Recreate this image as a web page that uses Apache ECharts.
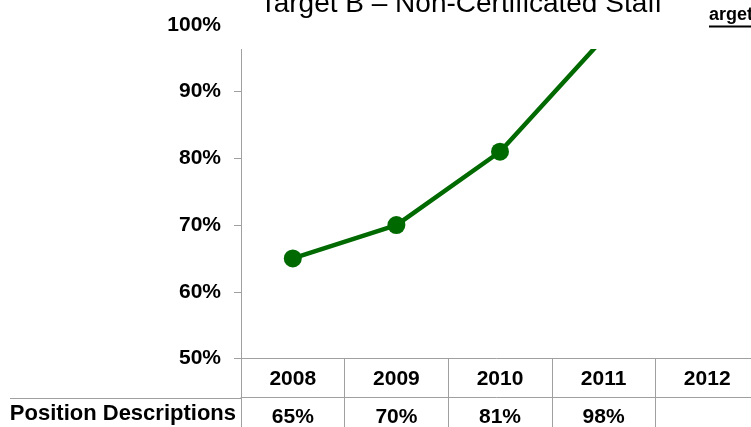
<!DOCTYPE html>
<html>
<head>
<meta charset="utf-8">
<script src="https://cdn.jsdelivr.net/npm/echarts@6/dist/echarts.min.js"></script>
<style>
  html, body { margin: 0; padding: 0; background: #fff; }
</style>
</head>
<body>
<!-- 图表容器 -->
<div id="myChart" style="width: 751px;height:427px;"></div>
<script>
// 年份
var years = ['2008', '2009', '2010', '2011', '2012'];
// Position Descriptions 数据（百分比）
var positionDescriptions = [65, 70, 81, 98, null];
var seriesName = 'Position Descriptions';
var chartTitle = 'Target B \u2013 Non-Certificated Staff';

var gray = '#a0a0a0';
var green = '#006a00';
var labelFont = 'Liberation Sans, Arial, sans-serif';

var myChart = echarts.init(document.getElementById('myChart'));

var option = {
  animation: false,
  grid: {
    left: 241,
    top: 25,
    width: 518,
    height: 333.5,
    outerBoundsMode: 'none',
    containLabel: false
  },
  xAxis: [
    {
      type: 'category',
      data: years,
      boundaryGap: true,
      axisLine: { show: true, lineStyle: { color: gray, width: 1 } },
      axisTick: { show: true, alignWithLabel: false, length: 39, lineStyle: { color: gray } },
      axisLabel: {
        margin: 10,
        fontFamily: labelFont,
        fontWeight: 'bold',
        fontSize: 21,
        color: '#000'
      },
      splitLine: { show: false }
    },
    {
      type: 'category',
      position: 'bottom',
      offset: 39,
      data: positionDescriptions.map(function (v) { return v == null ? '' : v + '%'; }),
      boundaryGap: true,
      axisLine: { show: true, lineStyle: { color: gray, width: 1 } },
      axisTick: { show: true, length: 32, lineStyle: { color: gray } },
      axisLabel: {
        margin: 9,
        fontFamily: labelFont,
        fontWeight: 'bold',
        fontSize: 21,
        color: '#000'
      },
      splitLine: { show: false }
    }
  ],
  yAxis: {
    type: 'value',
    min: 50,
    max: 100,
    interval: 10,
    axisLine: { show: true, lineStyle: { color: gray, width: 1 } },
    axisTick: { show: true, length: 7, lineStyle: { color: gray } },
    splitLine: { show: false },
    axisLabel: {
      margin: 20,
      formatter: '{value}%',
      fontFamily: labelFont,
      fontWeight: 'bold',
      fontSize: 21,
      color: '#000'
    }
  },
  series: [
    {
      name: seriesName,
      type: 'line',
      xAxisIndex: 0,
      data: positionDescriptions,
      symbol: 'circle',
      symbolSize: 18,
      clip: false,
      itemStyle: { color: green },
      lineStyle: { color: green, width: 4.5 },
      z: 5
    }
  ],
  graphic: [
    // 标题框（白底遮住上方）
    {
      type: 'rect',
      z: 100,
      shape: { x: 225, y: 0, width: 526, height: 49 },
      style: { fill: '#fff' }
    },
    {
      type: 'text',
      z: 101,
      x: 461,
      y: 4,
      style: {
        text: chartTitle,
        fill: '#000',
        font: '28px ' + labelFont,
        textAlign: 'center',
        textVerticalAlign: 'middle'
      }
    },
    {
      type: 'text',
      z: 101,
      x: 709,
      y: 15,
      style: {
        text: 'arget',
        fill: '#000',
        font: 'bold 18px ' + labelFont,
        textAlign: 'left',
        textVerticalAlign: 'middle'
      }
    },
    {
      type: 'line',
      z: 101,
      shape: { x1: 709, y1: 26.5, x2: 751, y2: 26.5 },
      style: { stroke: '#000', lineWidth: 2 }
    },
    // 表格左侧行标题
    {
      type: 'line',
      z: 1,
      shape: { x1: 10, y1: 398.5, x2: 241, y2: 398.5 },
      style: { stroke: gray, lineWidth: 1 }
    },
    {
      type: 'text',
      z: 2,
      x: 236,
      y: 414,
      style: {
        text: seriesName,
        fill: '#000',
        font: 'bold 22px ' + labelFont,
        textAlign: 'right',
        textVerticalAlign: 'middle'
      }
    }
  ]
};
option && myChart.setOption(option);
</script>
</body>
</html>
